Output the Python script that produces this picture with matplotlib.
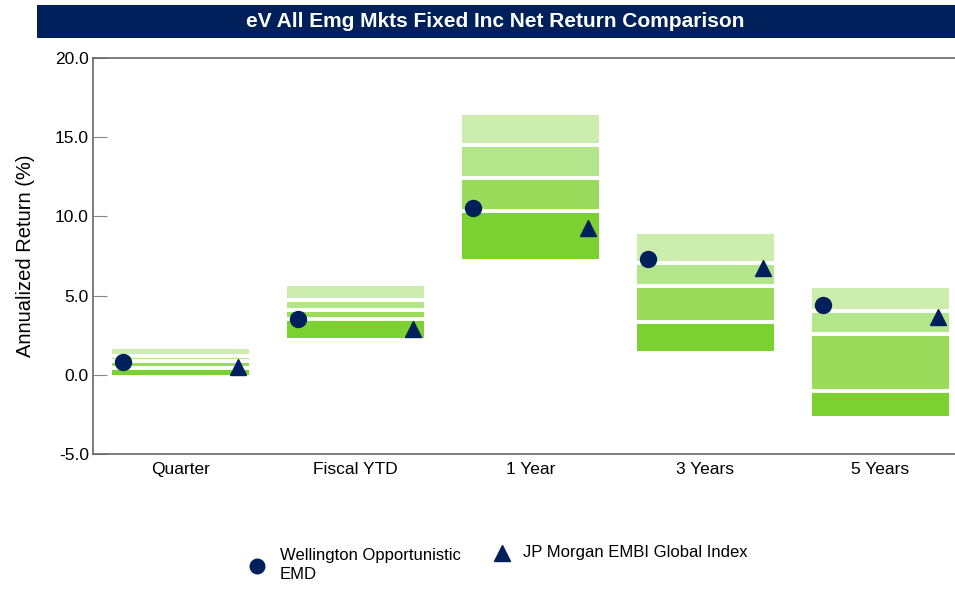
import matplotlib.pyplot as plt
from matplotlib.patches import Rectangle
from matplotlib.lines import Line2D

# peer universe percentiles (5th, 25th, median, 75th, 95th) per period
periods = ["Quarter", "Fiscal YTD", "1 Year", "3 Years", "5 Years"]
p5 = [1.62, 5.63, 16.40, 8.87, 5.46]
p25 = [1.20, 4.74, 14.49, 7.06, 4.04]
p50 = [0.87, 4.12, 12.42, 5.59, 2.59]
p75 = [0.42, 3.52, 10.36, 3.33, -1.04]
p95 = [0.00, 2.30, 7.33, 1.50, -2.62]

wellington = [0.79, 3.50, 10.51, 7.29, 4.41]
embi = [0.49, 2.88, 9.24, 6.74, 3.65]

navy = "#00205B"
band_colors = ["#CDEDAF", "#B3E58A", "#9ADB5C", "#7AD12F"]
font = "Liberation Sans"

fig = plt.figure(figsize=(9.55, 5.9), dpi=100)
ax = fig.add_axes([0.0974, 0.2305, 0.916, 0.6712])

x = list(range(len(periods)))
width = 0.78

# floating bars for each quartile band
edges = [p5, p25, p50, p75, p95]
for i in range(4):
    tops = edges[i]
    bots = edges[i + 1]
    heights = [t - b for t, b in zip(tops, bots)]
    ax.bar(x, heights, bottom=bots, width=width, color=band_colors[i], zorder=1)

# white separators between bands
for row in [p25, p50, p75]:
    ax.hlines(row, [xi - width / 2 for xi in x], [xi + width / 2 for xi in x],
              colors="white", linewidth=2.8, zorder=2)

off = 0.327
ax.plot([xi - off for xi in x], wellington, "o", color=navy, markersize=11.5, zorder=3)
ax.plot([xi + off for xi in x], embi, "^", color=navy, markersize=12, zorder=3)

ax.set_xlim(-0.5, 4.5)
ax.set_ylim(-5, 20)
ax.set_yticks([-5, 0, 5, 10, 15, 20])
ax.set_yticklabels([f"{v:.1f}" for v in [-5, 0, 5, 10, 15, 20]], family=font, fontsize=12.5)
ax.set_xticks(x)
ax.set_xticklabels(periods, fontsize=12.5, family=font)
ax.tick_params(axis="x", length=0, pad=6)
ax.tick_params(axis="y", direction="in", length=10, color="#888888", pad=3)
ax.set_ylabel("Annualized Return (%)", fontsize=14.5, family=font, labelpad=14)

for side in ["left", "bottom", "top"]:
    ax.spines[side].set_color("#666666")
    ax.spines[side].set_linewidth(1.2)
ax.spines["right"].set_visible(False)

# title banner
fig.patches.append(Rectangle((0.0387, 0.9356), 0.97, 0.0559, transform=fig.transFigure,
                             facecolor=navy, edgecolor="none", zorder=0))
fig.text(0.519, 0.9636, "eV All Emg Mkts Fixed Inc Net Return Comparison", color="white",
         fontsize=15, fontweight="bold", family=font, ha="center", va="center")

# legend
fig.add_artist(Line2D([257 / 955], [1 - 566 / 590], marker="o", color=navy,
                      markersize=10.5, linestyle="none", transform=fig.transFigure))
fig.text(280 / 955, 1 - 565 / 590, "Wellington Opportunistic\nEMD", fontsize=12,
         family=font, va="center", ha="left", linespacing=1.4)
fig.add_artist(Line2D([502 / 955], [1 - 553 / 590], marker="^", color=navy,
                      markersize=11, linestyle="none", transform=fig.transFigure))
fig.text(523 / 955, 1 - 553 / 590, "JP Morgan EMBI Global Index", fontsize=12,
         family=font, va="center", ha="left")

fig.savefig("out.png", dpi=100)
